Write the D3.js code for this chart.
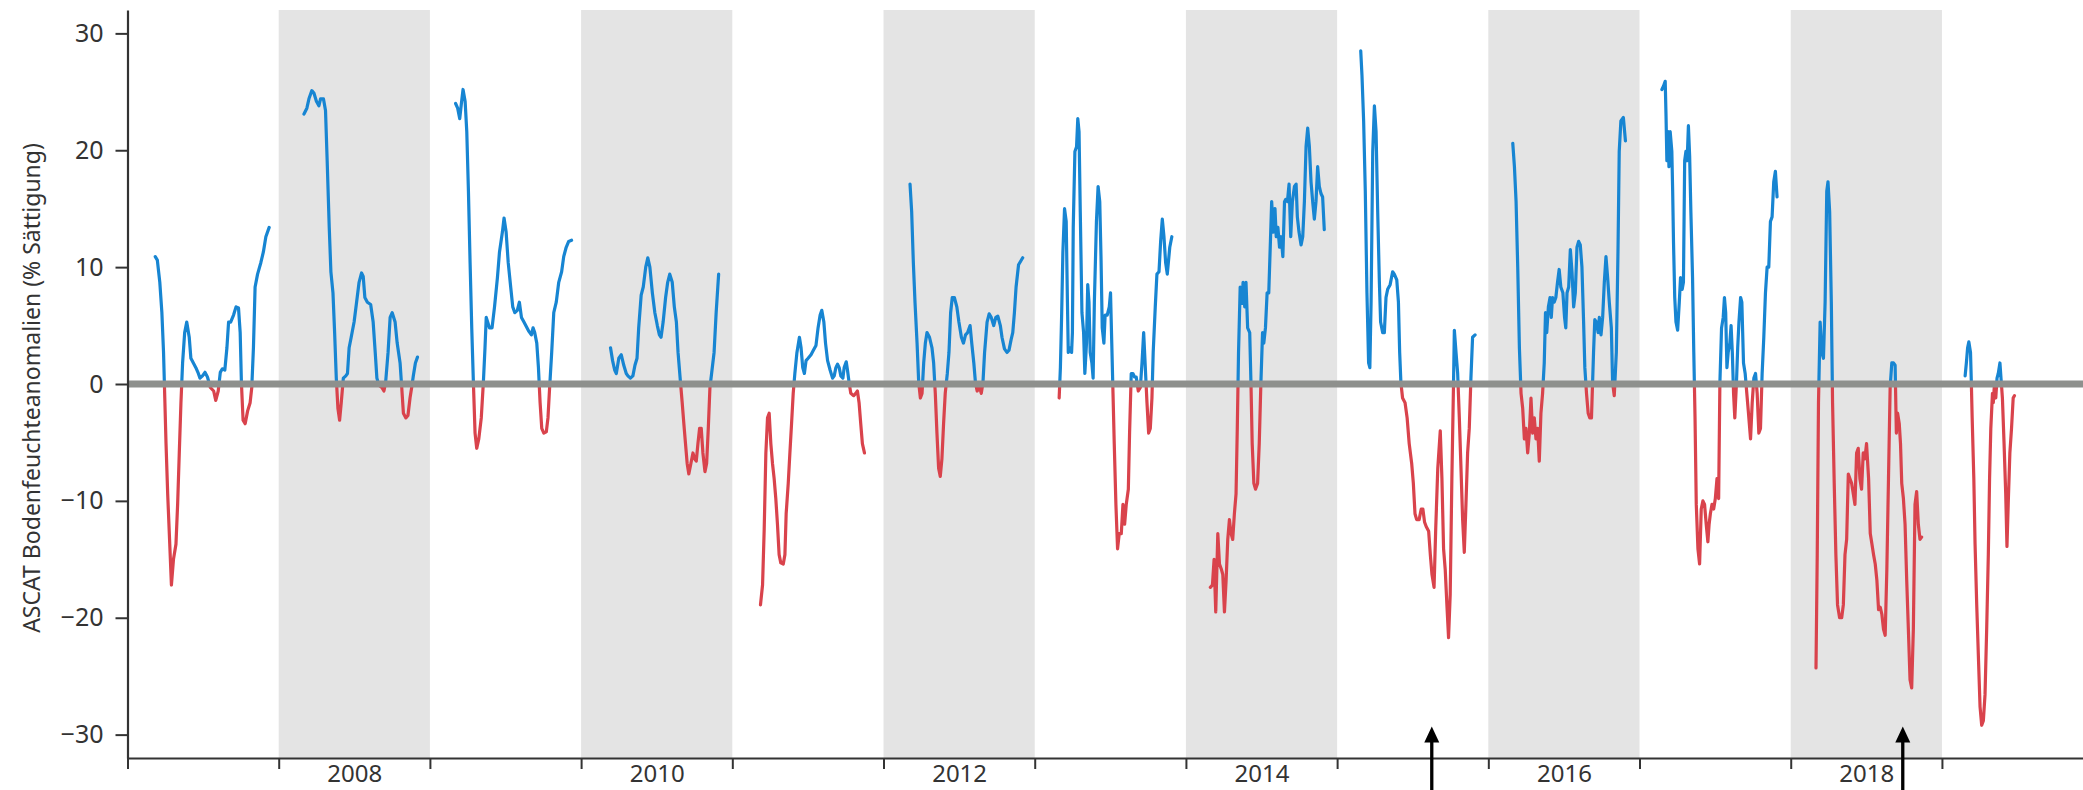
<!DOCTYPE html>
<html>
<head>
<meta charset="utf-8">
<script src="https://cdn.jsdelivr.net/npm/d3@7"></script>
<style>
  html, body { margin: 0; padding: 0; background: #fff; }
  svg { display: block; }
  text { font-family: "Noto Sans", "Open Sans", sans-serif; }
</style>
</head>
<body>
<svg id="chart" width="2083" height="790"></svg>
<script>
// ---- data: [day of year, ASCAT soil moisture anomaly (% saturation)] ----
const d2007 = [[67,10.9],[72,10.6],[78,8.7],[83,6.1],[87,2.7],[90,-1.2],[93,-5.1],[97,-9.4],[102,-13.7],[106,-17.2],[111,-15],[117,-13.7],[121,-10.3],[125,-5.9],[129,-1.6],[133,1.8],[138,4.4],[143,5.3],[149,4],[153,2.2],[159,1.8],[165,1.4],[171,0.9],[175,0.5],[181,0.7],[187,1],[193,0.6],[200,-0.3],[208,-0.6],[213,-1.4],[219,-0.6],[224,1],[229,1.3],[235,1.2],[240,3.1],[244,5.3],[249,5.3],[256,5.9],[262,6.6],[268,6.5],[272,4.4],[275,0.1],[279,-3.1],[284,-3.4],[290,-2.3],[296,-1.6],[300,-0.3],[304,3.1],[308,8.3],[314,9.4],[322,10.4],[328,11.3],[334,12.6],[342,13.4]];
const d2008 = [[61,23.1],[68,23.6],[73,24.4],[80,25.1],[85,24.9],[91,24.2],[97,23.8],[101,24.4],[108,24.4],[113,23.4],[117,19.1],[122,13.4],[126,9.6],[131,7.8],[135,4.4],[139,0.5],[143,-2.1],[147,-3.1],[151,-1.6],[156,0.5],[162,0.7],[166,0.9],[170,3.1],[175,4],[182,5.3],[188,7],[194,8.7],[200,9.5],[204,9.2],[208,7.4],[214,7],[222,6.8],[228,5.3],[233,2.7],[237,0.5],[242,-0.1],[249,-0.3],[254,-0.6],[258,0.1],[264,2.7],[269,5.7],[274,6.1],[281,5.3],[286,3.5],[293,1.8],[297,-0.3],[301,-2.5],[307,-2.9],[312,-2.7],[317,-1.2],[321,-0.3],[325,0.7],[330,1.8],[335,2.3]];
const d2009 = [[62,24.0],[67,23.6],[72,22.7],[76,24.0],[80,25.2],[85,24.2],[89,21.6],[93,16.5],[97,10.4],[101,4.8],[105,0.1],[109,-4.2],[113,-5.5],[118,-4.7],[124,-2.9],[129,0.1],[133,3.1],[136,5.7],[144,4.8],[150,4.8],[156,6.6],[163,9.1],[168,11.3],[175,13.0],[179,14.2],[184,13.0],[189,10.4],[195,8.3],[200,6.6],[205,6.1],[211,6.3],[216,7.0],[221,5.7],[227,5.3],[233,4.9],[239,4.5],[245,4.2],[249,4.8],[253,4.4],[258,3.5],[262,1.4],[266,-1.6],[270,-3.8],[275,-4.2],[281,-4.1],[285,-2.9],[289,-0.3],[294,2.7],[299,6.1],[305,7.0],[311,8.7],[318,9.6],[323,10.9],[329,11.7],[335,12.2],[342,12.3]];
const d2010 = [[71,3.1],[76,2.0],[81,1.2],[85,0.9],[91,2.2],[97,2.5],[103,1.6],[109,0.9],[113,0.7],[119,0.5],[125,0.7],[130,1.6],[135,2.2],[139,4.8],[145,7.6],[150,8.3],[156,10.0],[161,10.8],[166,10.0],[172,7.8],[178,6.1],[184,5.0],[189,4.2],[193,4.0],[198,5.3],[204,7.4],[209,8.7],[214,9.4],[220,8.7],[225,6.6],[230,5.3],[234,2.7],[240,0.1],[244,-1.6],[248,-3.4],[252,-5.1],[256,-6.8],[260,-7.7],[265,-6.8],[270,-5.9],[274,-6.4],[278,-6.6],[282,-5.1],[286,-3.8],[290,-3.8],[294,-5.9],[299,-7.5],[303,-6.8],[307,-3.8],[311,-0.3],[315,0.9],[321,2.7],[326,6.1],[332,9.4]];
const d2011 = [[68,-18.9],[73,-17.2],[77,-12.4],[81,-5.9],[85,-2.9],[89,-2.5],[93,-5.1],[97,-6.8],[101,-8.1],[105,-9.8],[109,-12.0],[113,-14.6],[117,-15.3],[123,-15.4],[127,-14.6],[130,-11.1],[135,-8.5],[139,-5.9],[143,-3.4],[147,-0.8],[151,0.9],[156,2.7],[162,4.0],[166,3.1],[170,1.4],[174,0.9],[178,2.0],[183,2.2],[190,2.5],[196,2.9],[202,3.3],[207,4.8],[212,5.9],[216,6.3],[221,5.3],[225,3.5],[230,2.0],[236,1.2],[242,0.5],[246,0.7],[250,1.4],[254,1.7],[258,1.4],[262,0.7],[267,0.5],[270,1.4],[275,1.9],[278,1.2],[282,0.1],[286,-0.8],[293,-1.0],[298,-0.8],[302,-0.6],[306,-1.6],[310,-3.4],[314,-5.1],[319,-5.9]];
const d2012 = [[64,17.1],[68,14.7],[72,10.4],[76,7.0],[81,3.5],[85,0.1],[89,-1.2],[93,-0.8],[97,1.8],[101,3.5],[105,4.4],[111,4.0],[117,3.1],[121,1.8],[125,-0.8],[129,-4.2],[133,-7.2],[137,-7.9],[141,-6.4],[145,-3.4],[149,-0.8],[154,0.9],[158,2.7],[162,6.1],[166,7.4],[171,7.4],[177,6.6],[182,5.3],[188,4.0],[193,3.5],[198,4.2],[203,4.4],[209,5.0],[213,3.5],[218,1.8],[222,0.1],[226,-0.6],[232,-0.3],[236,-0.8],[240,0.1],[244,2.7],[250,5.3],[255,6.0],[260,5.7],[266,5.0],[271,5.7],[276,5.8],[282,5.0],[286,4.0],[292,3.0],[298,2.7],[303,2.9],[308,3.8],[312,4.4],[316,6.1],[320,8.3],[326,10.2],[331,10.5],[336,10.8]];
const d2013 = [[59,-1.2],[62,1.4],[65,5.9],[68,11.3],[72,15.0],[76,13.9],[79,7.0],[81,2.7],[85,3.1],[89,2.7],[91,4.4],[93,13.4],[97,19.9],[101,20.3],[104,22.7],[107,21.6],[110,14.7],[114,6.1],[118,4.4],[121,0.9],[125,3.5],[128,8.5],[131,7.0],[134,2.7],[138,1.8],[141,0.5],[144,7.0],[149,13.9],[153,16.9],[157,15.6],[160,10.9],[163,4.8],[167,3.5],[170,5.9],[175,5.9],[180,6.6],[183,7.8],[186,3.5],[189,-0.8],[192,-5.1],[196,-10.3],[200,-14.1],[204,-12.8],[209,-12.8],[213,-10.3],[217,-12.0],[221,-10.3],[226,-9.0],[229,-4.2],[233,0.9],[237,0.9],[241,0.6],[245,0.6],[250,-0.6],[255,-0.3],[259,1.8],[263,4.4],[267,1.4],[271,-1.6],[275,-4.2],[279,-3.8],[283,-1.2],[286,2.7],[291,6.6],[295,9.4],[300,9.6],[304,12.2],[308,14.1],[312,12.6],[316,10.4],[320,9.4],[326,11.7],[331,12.6]];
const d2014 = [[59,-17.4],[64,-17.2],[68,-15.0],[72,-19.5],[77,-12.8],[81,-15.4],[86,-15.9],[89,-16.3],[93,-19.5],[97,-16.8],[101,-13.3],[105,-11.6],[109,-12.8],[113,-13.3],[117,-11.1],[121,-9.4],[124,-3.8],[127,2.7],[131,8.3],[135,6.9],[138,8.7],[142,6.6],[145,8.7],[149,4.8],[154,4.4],[157,0.1],[160,-5.1],[164,-8.5],[168,-9.0],[173,-8.5],[177,-5.1],[181,0.1],[185,4.4],[188,3.5],[192,4.8],[196,7.8],[200,7.8],[204,12.2],[207,15.6],[211,13.0],[215,15.0],[218,12.6],[222,13.4],[226,11.7],[230,12.6],[234,10.9],[238,15.6],[241,15.8],[245,15.6],[249,17.1],[253,12.6],[257,15.6],[262,16.9],[266,17.1],[269,14.3],[273,13.0],[278,11.9],[282,12.6],[286,15.6],[290,20.3],[294,21.9],[298,20.3],[302,17.3],[306,15.6],[310,14.1],[314,15.6],[318,18.6],[322,16.9],[326,16.3],[330,16.0],[334,13.2]];
const d2015 = [[57,28.5],[60,26.4],[64,22.5],[68,16.5],[72,7.8],[76,1.8],[79,1.4],[82,7.0],[86,19.9],[90,23.8],[94,21.6],[98,14.7],[102,8.7],[105,5.3],[110,4.4],[114,4.4],[118,7.4],[122,8.1],[128,8.5],[134,9.6],[138,9.4],[144,8.9],[148,7.0],[151,2.7],[154,0.1],[158,-1.2],[164,-1.6],[169,-2.9],[174,-5.1],[180,-6.8],[184,-8.5],[188,-11.1],[192,-11.6],[198,-11.6],[203,-10.7],[207,-10.7],[211,-11.8],[215,-12.2],[221,-12.6],[225,-14.6],[229,-16.3],[234,-17.4],[238,-12.4],[243,-7.2],[249,-4.0],[253,-8.1],[257,-14.1],[261,-15.9],[265,-18.9],[269,-21.7],[273,-18.0],[277,-8.1],[281,0.1],[283,4.6],[287,2.7],[291,0.9],[295,-2.9],[299,-7.2],[303,-11.6],[307,-14.4],[311,-10.3],[315,-5.9],[319,-3.8],[323,0.5],[327,4.0],[333,4.2]];
const d2016 = [[59,20.6],[63,18.6],[67,15.6],[71,10.0],[75,3.1],[79,-0.8],[83,-2.1],[87,-4.7],[91,-3.8],[95,-5.9],[99,-4.2],[103,-1.2],[107,-4.2],[111,-2.9],[115,-4.7],[119,-3.8],[123,-6.6],[127,-2.5],[131,-0.8],[135,1.8],[138,6.1],[141,4.4],[145,6.6],[149,7.4],[152,5.7],[155,7.4],[159,7.0],[163,7.4],[167,8.7],[171,9.8],[175,8.3],[180,7.8],[184,5.7],[187,4.8],[190,7.8],[194,8.3],[198,11.5],[202,9.6],[206,6.6],[210,7.8],[214,11.7],[218,12.2],[222,11.9],[226,10.0],[230,5.3],[233,1.4],[237,-0.8],[241,-2.5],[245,-2.9],[249,-2.9],[254,2.7],[257,5.5],[261,5.3],[265,4.4],[268,5.7],[272,4.2],[276,5.7],[280,8.7],[284,10.9],[288,9.1],[292,7.0],[297,4.8],[300,0.1],[304,-1.0],[309,2.7],[313,11.3],[316,19.9],[320,22.5],[326,22.8],[331,20.8]];
const d2017 = [[54,25.2],[58,25.5],[62,25.9],[64,22.9],[66,19.1],[69,21.6],[71,18.6],[74,21.6],[78,19.9],[80,16.5],[82,12.2],[85,7.4],[88,5.3],[92,4.6],[96,7.0],[99,9.1],[103,8.1],[106,8.7],[109,19.1],[112,19.9],[115,19.1],[118,22.1],[121,19.5],[124,14.7],[128,9.1],[131,2.7],[134,-2.9],[137,-10.3],[141,-14.1],[145,-15.4],[149,-10.7],[153,-10.0],[157,-10.3],[161,-12.0],[165,-13.5],[168,-12.0],[171,-11.1],[175,-10.3],[179,-10.7],[183,-9.8],[187,-8.1],[191,-9.8],[194,0.1],[198,4.8],[202,5.7],[205,7.4],[208,6.1],[211,1.4],[214,2.7],[218,3.5],[221,5.0],[224,2.7],[227,-0.8],[230,-2.9],[234,0.1],[237,3.1],[240,5.3],[244,7.4],[247,7.0],[251,1.8],[255,0.9],[259,-0.8],[263,-2.5],[268,-4.7],[272,-1.6],[276,0.5],[280,0.9],[284,-0.8],[288,-4.2],[292,-3.8],[296,0.9],[300,4.0],[304,7.8],[308,10.0],[312,10.0],[316,13.9],[320,14.3],[324,17.3],[328,18.2],[332,16.0]];
const d2018 = [[61,-24.3],[64,-14.6],[67,-1.6],[71,5.3],[75,2.7],[79,2.2],[83,7.0],[87,16.5],[90,17.3],[94,14.7],[98,7.0],[101,-1.6],[105,-8.5],[109,-14.6],[113,-18.9],[118,-20.0],[123,-20.0],[127,-18.9],[131,-14.6],[135,-13.3],[139,-7.7],[143,-8.1],[147,-8.5],[151,-9.4],[155,-10.3],[159,-5.9],[163,-5.5],[167,-8.1],[171,-9.0],[175,-5.9],[179,-6.4],[183,-5.1],[188,-8.1],[192,-12.8],[196,-13.7],[200,-14.6],[204,-15.4],[208,-16.8],[212,-19.3],[216,-19.1],[220,-19.7],[224,-21.0],[228,-21.5],[232,-15.9],[236,-8.1],[240,-0.3],[244,1.8],[248,1.8],[252,1.6],[255,-4.2],[258,-2.5],[262,-3.4],[265,-5.1],[268,-8.5],[272,-9.8],[276,-12.0],[280,-16.8],[284,-21.0],[288,-25.3],[292,-26.0],[296,-21.0],[300,-10.3],[304,-9.2],[308,-12.0],[312,-13.3],[316,-13.1]];
const d2019 = [[56,0.7],[59,1.8],[62,3.1],[65,3.6],[69,2.7],[71,0.1],[73,-2.9],[77,-8.1],[80,-13.7],[84,-18.9],[88,-23.3],[92,-27.6],[96,-29.2],[100,-28.8],[104,-26.6],[108,-21.0],[112,-14.6],[115,-8.1],[118,-3.8],[122,-0.8],[124,-1.6],[127,0.1],[130,-1.2],[133,0.5],[136,0.9],[140,1.8],[143,0.3],[146,-1.2],[150,-5.1],[154,-9.4],[157,-13.9],[160,-10.3],[164,-5.9],[168,-3.8],[172,-1.2],[175,-1.0]];

const seasonYears = [2007,2008,2009,2010,2011,2012,2013,2014,2015,2016,2017,2018,2019];
const seasonData  = [d2007,d2008,d2009,d2010,d2011,d2012,d2013,d2014,d2015,d2016,d2017,d2018,d2019];
const shadedYears = [2008,2010,2012,2014,2016,2018];
const yearTicks   = [2007,2008,2009,2010,2011,2012,2013,2014,2015,2016,2017,2018,2019];
const yTicks      = [-30,-20,-10,0,10,20,30];
const arrowDates  = [2015.626, 2018.741];
const yLabel = "ASCAT Bodenfeuchteanomalien (% Sättigung)";

// ---- layout ----
const W = 2083, H = 790;
const mLeft = 127.5, mTop = 10, mBottom = 758;
const svg = d3.select("#chart");

const x = d3.scaleLinear().domain([2007, 2019.933]).range([mLeft, W]);
const y = d3.scaleLinear().domain([-32, 32]).range([mBottom, mTop]);

// shaded bands
svg.append("g").selectAll("rect").data(shadedYears).join("rect")
  .attr("x", d => x(d)).attr("width", d => x(d + 1) - x(d))
  .attr("y", mTop).attr("height", mBottom - mTop)
  .attr("fill", "#e4e4e4");

// clip paths for sign colouring
const defs = svg.append("defs");
defs.append("clipPath").attr("id", "clipPos").append("rect")
  .attr("x", 0).attr("y", 0).attr("width", W).attr("height", y(0));
defs.append("clipPath").attr("id", "clipNeg").append("rect")
  .attr("x", 0).attr("y", y(0)).attr("width", W).attr("height", H - y(0));

const series = seasonYears.map((yr, i) => seasonData[i].map(d => ({t: yr + d[0] / 365, v: d[1]})));
const line = d3.line().x(d => x(d.t)).y(d => y(d.v));

[["clipPos", "#1785d2"], ["clipNeg", "#d9434c"]].forEach(([clip, col]) => {
  svg.append("g").attr("clip-path", `url(#${clip})`)
    .selectAll("path").data(series).join("path")
    .attr("d", line)
    .attr("fill", "none")
    .attr("stroke", col)
    .attr("stroke-width", 3.2)
    .attr("stroke-linejoin", "round")
    .attr("stroke-linecap", "round");
});

// zero line
svg.append("line")
  .attr("x1", mLeft).attr("x2", W)
  .attr("y1", y(0)).attr("y2", y(0))
  .attr("stroke", "#8e908d").attr("stroke-width", 7);

// y axis
const yAxis = svg.append("g").attr("transform", `translate(${mLeft},0)`)
  .call(d3.axisLeft(y).tickValues(yTicks).tickSize(12).tickSizeOuter(0).tickPadding(12));
yAxis.select(".domain").attr("stroke", "#333").attr("stroke-width", 2.2);
yAxis.selectAll(".tick line").attr("stroke", "#333").attr("stroke-width", 2);
yAxis.selectAll(".tick text").attr("font-size", 25).attr("fill", "#333")
  .attr("font-family", "'Noto Sans', sans-serif");

// x axis: year boundary ticks
const xAxis = svg.append("g").attr("transform", `translate(0,${mBottom})`)
  .call(d3.axisBottom(x).tickValues(yearTicks).tickSize(11).tickSizeOuter(0).tickFormat(""));
xAxis.select(".domain").attr("stroke", "#333").attr("stroke-width", 2.2);
xAxis.selectAll(".tick line").attr("stroke", "#333").attr("stroke-width", 2);

// x labels centred in even years
const xLab = svg.append("g").attr("transform", `translate(0,${mBottom})`)
  .call(d3.axisBottom(x).tickValues(shadedYears.map(d => d + 0.5)).tickSize(0).tickPadding(7)
    .tickFormat(d => String(Math.floor(d))));
xLab.select(".domain").remove();
xLab.selectAll(".tick text").attr("font-size", 24).attr("fill", "#333")
  .attr("font-family", "'Noto Sans', sans-serif");

// y label
svg.append("text")
  .attr("transform", `translate(40,${(mTop + mBottom) / 2 + 4}) rotate(-90)`)
  .attr("text-anchor", "middle")
  .attr("font-size", 23)
  .attr("fill", "#333")
  .text(yLabel);

// arrows
const ag = svg.append("g").selectAll("g").data(arrowDates).join("g")
  .attr("transform", d => `translate(${x(d)},0)`);
ag.append("line").attr("x1", 0).attr("x2", 0)
  .attr("y1", y(-29.3) + 14).attr("y2", H)
  .attr("stroke", "#000").attr("stroke-width", 3.3);
ag.append("path")
  .attr("d", `M0,${y(-29.3)} L7.5,${y(-29.3) + 16} L-7.5,${y(-29.3) + 16} Z`)
  .attr("fill", "#000");
</script>
</body>
</html>
